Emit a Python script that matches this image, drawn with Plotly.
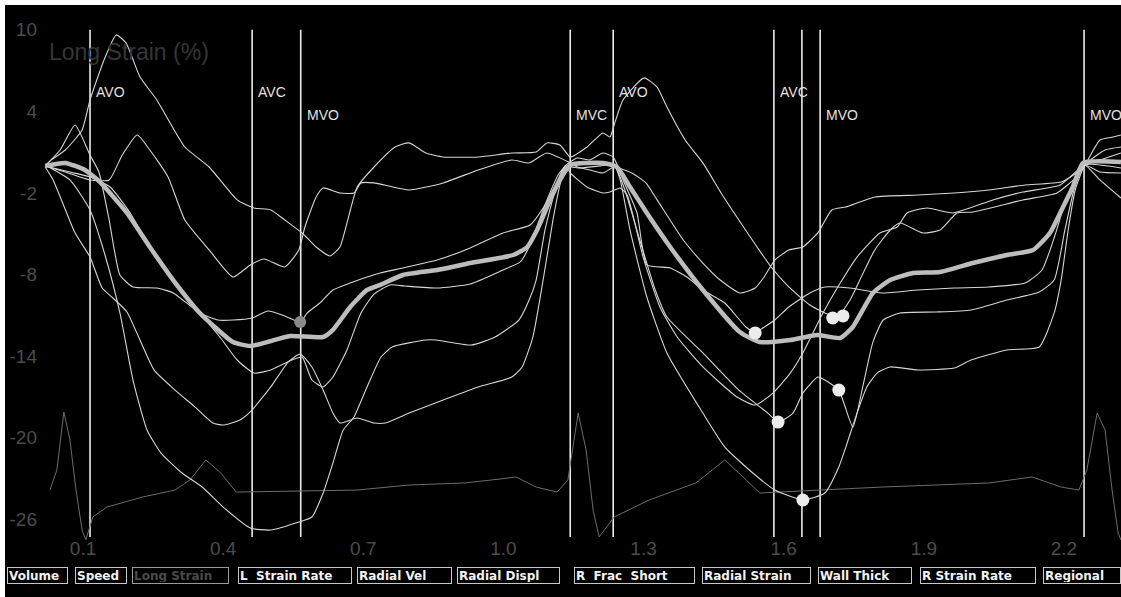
import plotly.graph_objects as go

# ---------------- data (time in s, longitudinal strain in %) ----------------
seg1_t = [0.019, 0.032, 0.062, 0.098, 0.115, 0.145, 0.171, 0.192, 0.222, 0.258,
          0.318, 0.370, 0.430, 0.466, 0.502, 0.532, 0.569, 0.599, 0.629, 0.650,
          0.665, 0.687, 0.723, 0.768, 0.798, 0.834, 0.871, 0.946, 1.018, 1.070,
          1.093, 1.121, 1.143, 1.179, 1.213, 1.228, 1.237, 1.256, 1.301, 1.329,
          1.350, 1.389, 1.427, 1.466, 1.504, 1.543, 1.573, 1.611, 1.656, 1.688,
          1.716, 1.742, 1.768, 1.795, 1.828, 1.849, 1.898, 1.935, 1.971, 2.005,
          2.112, 2.185, 2.224, 2.245, 2.277, 2.305, 2.322]
seg1_v = [-0.01, 0.43, 1.16, 2.63, 4.84, 7.78, 9.62, 9.03, 6.53, 4.84,
          1.38, -0.09, -2.51, -3.10, -3.25, -3.99, -4.94, -5.97, -6.63, -5.97,
          -4.21, -1.56, -0.09, 1.38, 1.68, 0.94, 0.65, 0.65, 0.94, 1.01,
          1.68, 1.53, 0.65, 1.38, 2.41, 2.12, 3.00, 4.84, 6.46, 5.79,
          4.32, 1.90, 0.21, -2.00, -3.99, -5.97, -7.44, -8.91, -10.24, -10.82,
          -11.04, -9.87, -8.03, -6.19, -4.72, -4.21, -4.94, -4.72, -3.47, -3.40,
          -2.51, -2.00, -0.90, 0.06, 1.90, 2.12, 2.26]

seg2_t = [0.019, 0.062, 0.115, 0.156, 0.184, 0.216, 0.243, 0.282, 0.318, 0.370,
          0.421, 0.458, 0.488, 0.532, 0.562, 0.575, 0.599, 0.614, 0.650, 0.680,
          0.695, 0.723, 0.798, 0.871, 0.946, 1.018, 1.055, 1.093, 1.143, 1.158,
          1.185, 1.213, 1.237, 1.275, 1.305, 1.329, 1.385, 1.427, 1.464, 1.506,
          1.539, 1.558, 1.581, 1.611, 1.641, 1.673, 1.703, 1.733, 1.795, 1.887,
          1.965, 2.039, 2.117, 2.194, 2.230, 2.245, 2.277, 2.322]
seg2_v = [-0.01, -0.46, -1.04, -1.04, 0.79, 2.26, 1.16, -0.82, -3.99, -6.19,
          -8.18, -7.29, -6.85, -7.44, -6.19, -4.50, -2.29, -1.63, -2.00, -2.00,
          -1.26, -1.26, -1.78, -1.26, -0.31, 0.43, 0.21, 0.94, 0.21, -0.09,
          -0.31, -0.53, -0.09, -0.53, -1.26, -2.51, -5.46, -7.15, -8.40, -9.35,
          -8.99, -8.18, -6.93, -6.19, -5.97, -4.94, -3.25, -3.03, -2.29, -2.15,
          -2.00, -1.78, -1.41, -1.19, -0.46, 0.06, -0.46, -0.53]

seg3_t = [0.019, 0.051, 0.083, 0.115, 0.134, 0.156, 0.179, 0.207, 0.258, 0.293,
          0.350, 0.389, 0.421, 0.462, 0.496, 0.532, 0.565, 0.580, 0.607, 0.635,
          0.672, 0.708, 0.736, 0.785, 0.858, 0.929, 0.999, 1.057, 1.089, 1.111,
          1.132, 1.158, 1.185, 1.213, 1.235, 1.256, 1.286, 1.307, 1.357, 1.393,
          1.427, 1.474, 1.519, 1.539, 1.549, 1.581, 1.611, 1.656, 1.688, 1.742,
          1.810, 1.887, 1.965, 2.039, 2.117, 2.153, 2.181, 2.204, 2.228, 2.245,
          2.277, 2.322]
seg3_v = [-0.01, 1.16, 3.00, 0.79, -0.46, -3.99, -8.03, -8.91, -8.99, -9.35,
          -10.82, -11.34, -11.34, -11.19, -10.68, -11.04, -11.49, -10.82, -10.09, -9.13,
          -8.62, -8.18, -7.88, -7.51, -6.93, -6.04, -4.94, -4.35, -2.88, -1.41,
          -0.01, 0.57, 0.43, 0.94, 0.65, -1.04, -3.47, -7.29, -7.51, -8.18,
          -9.13, -10.09, -11.85, -12.29, -12.07, -11.34, -10.38, -9.35, -8.91, -8.99,
          -9.35, -9.13, -8.99, -8.91, -8.62, -7.66, -5.09, -2.51, -0.68, 0.06,
          0.43, 0.94]

seg4_t = [0.019, 0.072, 0.115, 0.158, 0.201, 0.243, 0.286, 0.350, 0.393, 0.430,
          0.466, 0.502, 0.547, 0.569, 0.590, 0.614, 0.635, 0.665, 0.695, 0.723,
          0.757, 0.789, 0.858, 0.929, 0.999, 1.036, 1.057, 1.089, 1.117, 1.134,
          1.143, 1.179, 1.213, 1.228, 1.250, 1.265, 1.299, 1.335, 1.372, 1.427,
          1.500, 1.539, 1.577, 1.614, 1.641, 1.684, 1.721, 1.757, 1.806, 1.843,
          1.864, 1.907, 1.962, 2.048, 2.112, 2.192, 2.230, 2.245, 2.277, 2.322]
seg4_v = [-0.01, -0.46, -0.82, -1.56, -3.47, -5.97, -8.18, -10.82, -12.59, -14.28,
          -15.24, -15.01, -14.28, -14.06, -15.75, -16.26, -15.53, -13.54, -10.82, -9.43,
          -8.76, -8.84, -8.99, -8.69, -7.66, -7.07, -5.82, -2.88, -0.68, -0.01,
          -0.53, -1.56, -2.00, -1.93, -1.63, -2.15, -6.71, -10.38, -12.59, -14.79,
          -17.00, -17.59, -16.71, -15.24, -13.76, -10.82, -8.62, -6.71, -4.94, -4.50,
          -3.47, -3.10, -3.47, -2.51, -1.93, -1.41, -0.31, 0.06, -1.04, -2.37]

seg5_t = [0.019, 0.036, 0.053, 0.083, 0.115, 0.141, 0.164, 0.194, 0.252, 0.297,
          0.340, 0.378, 0.400, 0.436, 0.458, 0.502, 0.539, 0.565, 0.590, 0.614,
          0.635, 0.650, 0.687, 0.723, 0.747, 0.798, 0.871, 0.946, 1.018, 1.040,
          1.063, 1.085, 1.106, 1.121, 1.132, 1.153, 1.196, 1.237, 1.260, 1.292,
          1.325, 1.350, 1.427, 1.504, 1.566, 1.588, 1.620, 1.641, 1.673, 1.688,
          1.718, 1.748, 1.770, 1.791, 1.813, 1.849, 1.926, 2.001, 2.078, 2.147,
          2.179, 2.202, 2.224, 2.245, 2.322]
seg5_v = [-0.09, -1.04, -2.44, -4.94, -6.71, -8.99, -9.72, -10.75, -15.01, -16.49,
          -17.74, -18.91, -19.06, -18.69, -18.10, -16.26, -14.43, -13.84, -14.79, -16.49,
          -18.18, -18.91, -18.54, -18.91, -18.91, -18.18, -17.22, -16.26, -15.53, -14.79,
          -12.59, -8.40, -3.99, -1.41, -0.16, 0.06, 0.21, 0.06, -1.78, -5.46,
          -9.13, -11.12, -13.76, -16.49, -18.18, -18.84, -18.18, -16.71, -15.53, -15.75,
          -16.49, -19.21, -16.12, -12.96, -11.34, -10.82, -10.75, -10.60, -9.87, -9.28,
          -8.40, -4.72, -1.41, 0.06, -0.16]

seg6_t = [0.019, 0.072, 0.115, 0.147, 0.179, 0.207, 0.237, 0.267, 0.312, 0.355,
          0.400, 0.458, 0.502, 0.562, 0.590, 0.614, 0.635, 0.657, 0.680, 0.708,
          0.738, 0.762, 0.834, 0.856, 0.931, 0.982, 1.033, 1.055, 1.070, 1.089,
          1.111, 1.132, 1.164, 1.207, 1.237, 1.250, 1.271, 1.307, 1.350, 1.427,
          1.474, 1.534, 1.581, 1.641, 1.688, 1.718, 1.733, 1.757, 1.778, 1.800,
          1.828, 1.887, 1.965, 2.001, 2.078, 2.147, 2.179, 2.194, 2.209, 2.224,
          2.245, 2.288, 2.322]
seg6_v = [0.06, -1.04, -3.25, -6.56, -10.82, -15.75, -19.43, -21.12, -22.59, -23.62,
          -25.09, -26.63, -26.78, -26.19, -25.82, -24.06, -21.85, -19.43, -18.47, -16.26,
          -14.06, -13.32, -12.81, -12.81, -13.18, -12.59, -11.34, -9.87, -8.40, -4.72,
          -1.78, -0.09, -0.16, -0.01, 0.06, -1.04, -4.72, -9.65, -13.76, -18.18,
          -20.68, -22.59, -23.84, -24.57, -24.06, -22.15, -20.68, -18.18, -16.26, -15.24,
          -14.79, -15.01, -14.87, -14.28, -13.54, -13.32, -10.82, -8.40, -4.72, -1.78,
          0.06, 1.16, 1.38]

avg_t = [0.019, 0.062, 0.104, 0.136, 0.194, 0.243, 0.293, 0.350, 0.421, 0.458,
         0.494, 0.543, 0.614, 0.635, 0.672, 0.708, 0.736, 0.785, 0.858, 0.929,
         1.021, 1.051, 1.072, 1.100, 1.121, 1.143, 1.213, 1.243, 1.271, 1.307,
         1.357, 1.427, 1.506, 1.549, 1.614, 1.671, 1.721, 1.748, 1.791, 1.828,
         1.877, 1.935, 2.005, 2.078, 2.134, 2.170, 2.198, 2.219, 2.241, 2.322]
avg_v = [-0.01, 0.21, -0.31, -1.19, -3.47, -5.97, -8.40, -10.82, -12.96, -13.25,
         -12.96, -12.51, -12.59, -12.07, -10.38, -9.13, -8.76, -8.03, -7.66, -7.15,
         -6.56, -5.97, -4.72, -2.51, -1.04, 0.06, 0.21, -0.09, -1.56, -3.47,
         -5.97, -9.13, -12.22, -12.96, -12.81, -12.44, -12.66, -11.85, -9.35, -8.40,
         -7.88, -7.81, -7.15, -6.56, -6.19, -4.94, -3.03, -1.56, 0.21, 0.28]

ecg_t = [0.029, 0.044, 0.059, 0.072, 0.085, 0.098, 0.106, 0.121, 0.151, 0.228,
         0.297, 0.329, 0.363, 0.395, 0.428, 0.565, 0.687, 0.798, 0.916, 0.993,
         1.027, 1.070, 1.115, 1.138, 1.160, 1.177, 1.192, 1.205, 1.237, 1.312,
         1.412, 1.447, 1.474, 1.504, 1.549, 1.678, 1.810, 2.039, 2.132, 2.194,
         2.232, 2.249, 2.271, 2.288, 2.303, 2.316, 2.322]
ecg_v = [-23.84, -22.37, -18.10, -20.16, -23.84, -26.78, -27.51, -25.82, -25.09, -24.35,
         -23.84, -23.10, -21.63, -22.59, -23.99, -23.91, -23.84, -23.47, -23.32, -23.03,
         -22.88, -23.62, -23.99, -23.10, -18.18, -20.90, -25.32, -27.29, -25.82, -24.57,
         -23.32, -22.37, -21.63, -22.59, -24.06, -23.84, -23.62, -23.32, -22.88, -23.62,
         -23.84, -22.37, -18.18, -19.43, -23.84, -27.00, -27.51]

# sample points marked on the segment curves
dot_t = [1.539, 1.588, 1.641, 1.705, 1.727, 1.718]
dot_v = [-12.29, -18.84, -24.57, -11.19, -11.04, -16.49]
ref_dot_t = [0.565]
ref_dot_v = [-11.49]

# valve events
event_names = ["AVO", "AVC", "MVO", "MVC", "AVO", "AVC", "", "MVO", "MVO"]
event_t = [0.115, 0.462, 0.566, 1.143, 1.235, 1.579, 1.639, 1.678, 2.243]
event_label_v = [5.4, 5.4, 3.7, 3.7, 5.4, 5.4, None, 3.7, 3.7]
event_line_top, event_line_bottom = 10.0, -27.3

x_tickvals = [0.1, 0.4, 0.7, 1.0, 1.3, 1.6, 1.9, 2.2]
x_ticktext = ["0.1", "0.4", "0.7", "1.0", "1.3", "1.6", "1.9", "2.2"]
y_tickvals = [10, 4, -2, -8, -14, -20, -26]
y_ticktext = ["10", "4", "-2", "-8", "-14", "-20", "-26"]

chart_title = "Long Strain (%)"
button_labels = ["Volume", "Speed", "Long Strain", "L  Strain Rate", "Radial Vel",
                 "Radial Displ", "R  Frac  Short", "Radial Strain", "Wall Thick",
                 "R Strain Rate", "Regional"]
active_button = "Long Strain"

# ---------------- layout geometry ----------------
W, H = 1121, 597
ML, MR, MT, MB = 40, 0, 5, 35
PW, PH = W - ML - MR, H - MT - MB
button_boxes = [(7, 61), (75, 52), (132, 97), (238, 114), (357, 95), (457, 103),
                (574, 121), (702, 109), (818, 94), (920, 116), (1043, 78)]
button_center_py = 575


def paper_x(px):
    return (px - ML) / PW


def paper_y(py):
    return (H - MB - py) / PH


SANS = "Liberation Sans, Arial, sans-serif"

fig = go.Figure()
fig.add_trace(go.Scatter(x=ecg_t, y=ecg_v, mode="lines",
                         line=dict(color="#6c6c6c", width=1), hoverinfo="skip"))
for st, sv in zip([seg1_t, seg2_t, seg3_t, seg4_t, seg5_t, seg6_t],
                  [seg1_v, seg2_v, seg3_v, seg4_v, seg5_v, seg6_v]):
    fig.add_trace(go.Scatter(x=st, y=sv, mode="lines",
                             line=dict(color="#d6d6d6", width=1.1, shape="spline", smoothing=0.5),
                             hoverinfo="skip"))
fig.add_trace(go.Scatter(x=avg_t, y=avg_v, mode="lines",
                         line=dict(color="#bdbdbd", width=4.5, shape="spline", smoothing=0.5),
                         hoverinfo="skip"))
fig.add_trace(go.Scatter(x=ref_dot_t, y=ref_dot_v, mode="markers",
                         marker=dict(color="#8a8a8a", size=12), hoverinfo="skip"))
fig.add_trace(go.Scatter(x=dot_t, y=dot_v, mode="markers",
                         marker=dict(color="#ececec", size=13), hoverinfo="skip"))

shapes = []
for et in event_t:
    shapes.append(dict(type="line", xref="x", yref="y", x0=et, x1=et,
                       y0=event_line_top, y1=event_line_bottom,
                       line=dict(color="#ececec", width=1.6), layer="below"))
# white scan border (left and top)
shapes.append(dict(type="rect", xref="paper", yref="paper", x0=paper_x(0), x1=paper_x(5),
                   y0=paper_y(H), y1=paper_y(0), fillcolor="white", line=dict(width=0)))
shapes.append(dict(type="rect", xref="paper", yref="paper", x0=paper_x(0), x1=1,
                   y0=paper_y(5), y1=paper_y(0), fillcolor="white", line=dict(width=0)))

annotations = []
for name, et, ev in zip(event_names, event_t, event_label_v):
    if not name:
        continue
    annotations.append(dict(x=et, y=ev, xref="x", yref="y", text=name, showarrow=False,
                            xanchor="left", yanchor="middle", xshift=4,
                            font=dict(family=SANS, size=14, color="#e2e2e2")))
annotations.append(dict(x=paper_x(47), y=paper_y(52), xref="paper", yref="paper",
                        text=chart_title, showarrow=False, xanchor="left", yanchor="middle",
                        font=dict(family=SANS, size=23, color="#363636")))
for label, (left, width) in zip(button_labels, button_boxes):
    is_active = label == active_button
    annotations.append(dict(x=paper_x(left + width / 2), y=paper_y(button_center_py),
                            xref="paper", yref="paper", text="<b>" + label + "</b>",
                            showarrow=False, xanchor="center", yanchor="middle",
                            width=width - 4, height=13, align="left", borderpad=1,
                            bordercolor="#9a9a9a" if is_active else "#c8c8c8", borderwidth=1,
                            bgcolor="black",
                            font=dict(family="DejaVu Sans, sans-serif", size=12,
                                      color="#4a4a4a" if is_active else "#f2f2f2")))

fig.update_layout(
    width=W, height=H, margin=dict(l=ML, r=MR, t=MT, b=MB),
    paper_bgcolor="black", plot_bgcolor="black", showlegend=False,
    shapes=shapes, annotations=annotations,
    xaxis=dict(range=[0.0079, 2.3221], tickvals=x_tickvals, ticktext=x_ticktext,
               ticklabelposition="inside", ticks="", showgrid=False, zeroline=False,
               showline=False, tickfont=dict(family=SANS, size=19, color="#4c4c4c")),
    yaxis=dict(range=[-29.13, 11.82], tickvals=y_tickvals, ticktext=y_ticktext,
               ticks="", showgrid=False, zeroline=False, showline=False,
               ticklabelstandoff=2,
               tickfont=dict(family=SANS, size=19, color="#4c4c4c")),
)

fig.write_html("out.html", config={"displayModeBar": False},
               post_script="document.body.style.margin='0';")
